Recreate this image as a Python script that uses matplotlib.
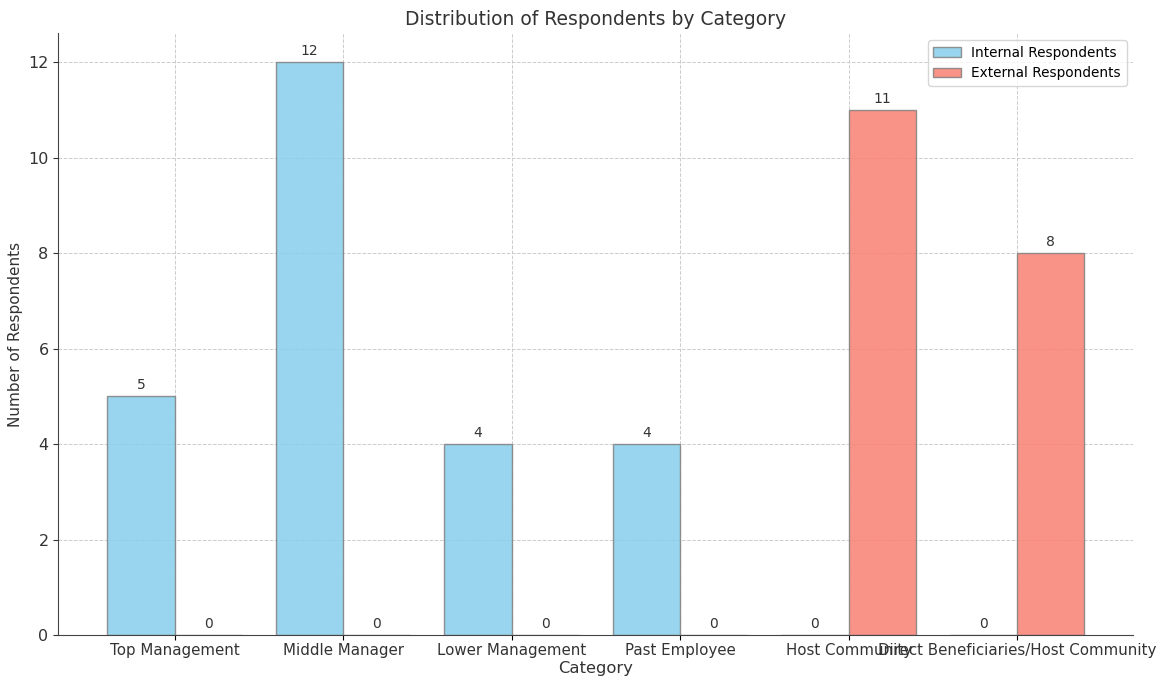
import numpy as np
import matplotlib.pyplot as plt

categories = ['Top Management', 'Middle Manager', 'Lower Management', 'Past Employee',
              'Host Community', 'Direct Beneficiaries/Host Community']
internal = [5, 12, 4, 4, 0, 0]
external = [0, 0, 0, 0, 11, 8]

x = np.arange(len(categories))
width = 0.4

fig, ax = plt.subplots(figsize=(11.66, 6.8), dpi=100)
fig.subplots_adjust(left=0.05, right=0.972, bottom=0.066, top=0.951)

bars1 = ax.bar(x - width / 2, internal, width, label='Internal Respondents',
               color='skyblue', alpha=0.85, edgecolor='grey')
bars2 = ax.bar(x + width / 2, external, width, label='External Respondents',
               color='salmon', alpha=0.85, edgecolor='grey')

for bars in (bars1, bars2):
    for b in bars:
        h = b.get_height()
        ax.annotate(f'{h}', xy=(b.get_x() + b.get_width() / 2, h),
                    xytext=(0, 3), textcoords='offset points',
                    ha='center', va='bottom', fontsize=10, color='#333333')

ax.set_title('Distribution of Respondents by Category', fontsize=13.5, color='#333333')
ax.set_xlabel('Category', fontsize=11.8, color='#333333', labelpad=2)
ax.set_ylabel('Number of Respondents', fontsize=11, color='#333333')
ax.set_xticks(x)
ax.set_xticklabels(categories, fontsize=10.8, color='#333333')
ax.tick_params(axis='x', pad=2)
ax.tick_params(axis='y', labelsize=11.5, colors='#333333')
ax.grid(True, linestyle='--', color='#cccccc', linewidth=0.7)
ax.set_axisbelow(True)
for s in ('top', 'right'):
    ax.spines[s].set_visible(False)
for s in ('left', 'bottom'):
    ax.spines[s].set_color('#444444')
ax.legend(fontsize=9.8, loc='upper right')

fig.savefig('out.png')
